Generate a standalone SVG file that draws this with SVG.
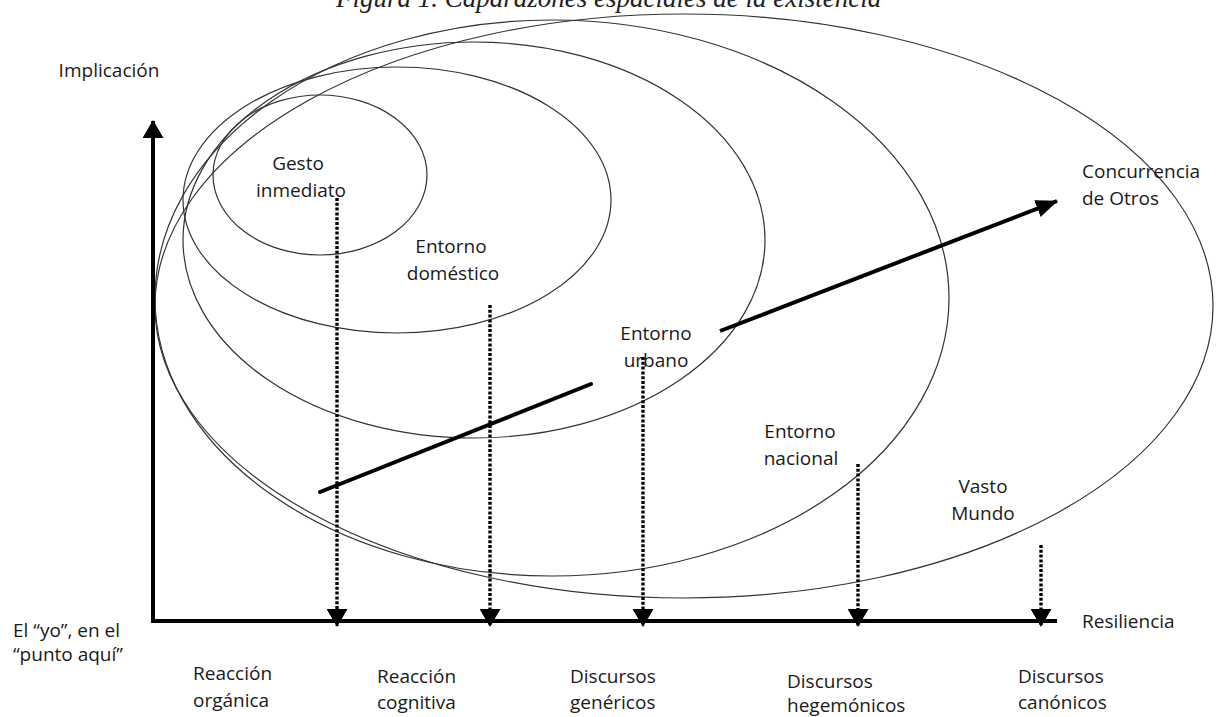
<svg xmlns="http://www.w3.org/2000/svg" width="1216" height="717" viewBox="0 0 1216 717">
<style>
.t{font-family:"Open Sans","Noto Sans",sans-serif;font-size:19px;fill:#1a1a1a}
.m{text-anchor:middle}
.e{fill:none;stroke:#333;stroke-width:1.2}
.ax{stroke:#000;stroke-width:4;fill:none}
.dot{stroke:#000;stroke-width:3.4;stroke-dasharray:3 1.8;fill:none}
.ttl{font-family:"Liberation Serif",serif;font-style:italic;font-size:27px;fill:#222}
</style>
<defs>
<marker id="tri" viewBox="0 0 18 21" refX="17" refY="10.5" markerWidth="18" markerHeight="21" markerUnits="userSpaceOnUse" orient="auto">
<path d="M0,0 L18,10.5 L0,21 z" fill="#000"/>
</marker>
<marker id="arr" viewBox="0 0 22 18" refX="21" refY="9" markerWidth="22" markerHeight="18" markerUnits="userSpaceOnUse" orient="auto">
<path d="M0,0 L22,9 L0,18 z" fill="#000"/>
</marker>
</defs>
<rect width="1216" height="717" fill="#fff"/>
<text class="ttl" x="336" y="7">Figura 1. Caparazones espaciales de la existencia</text>

<g id="vasto">
<ellipse class="e" cx="684" cy="306" rx="529" ry="292"/>
<text class="t m" x="983" y="493">Vasto</text>
<text class="t m" x="983" y="520">Mundo</text>
</g>
<g id="nacional">
<ellipse class="e" cx="552" cy="298" rx="397" ry="278"/>
<text class="t m" x="800" y="438">Entorno</text>
<text class="t m" x="801" y="465">nacional</text>
</g>
<g id="urbano">
<ellipse class="e" cx="474" cy="240" rx="291" ry="198"/>
<text class="t m" x="656" y="340">Entorno</text>
<text class="t m" x="656" y="367">urbano</text>
</g>
<g id="domestico">
<ellipse class="e" cx="397" cy="200" rx="214" ry="133"/>
<text class="t m" x="451" y="253">Entorno</text>
<text class="t m" x="453" y="280">doméstico</text>
</g>
<g id="gesto">
<ellipse class="e" cx="320" cy="175" rx="107" ry="80"/>
<text class="t m" x="298" y="170">Gesto</text>
<text class="t m" x="301" y="197">inmediato</text>
</g>

<g id="axes">
<line class="ax" x1="153" y1="623" x2="153" y2="121" marker-end="url(#tri)"/>
<line class="ax" x1="151" y1="621" x2="1057" y2="621"/>
<text class="t m" x="109" y="77">Implicación</text>
<text class="t" x="1082" y="628">Resiliencia</text>
<text class="t" x="13" y="637">El “yo”, en el</text>
<text class="t" x="13" y="661">“punto aquí”</text>
<text class="t" x="1082" y="178">Concurrencia</text>
<text class="t" x="1082" y="205">de Otros</text>
</g>

<g id="connectors">
<line class="dot" x1="337" y1="198" x2="337" y2="626" marker-end="url(#tri)"/>
<line class="dot" x1="490" y1="305" x2="490" y2="626" marker-end="url(#tri)"/>
<line class="dot" x1="643" y1="357" x2="643" y2="626" marker-end="url(#tri)"/>
<line class="dot" x1="858" y1="464" x2="858" y2="626" marker-end="url(#tri)"/>
<line class="dot" x1="1041" y1="545" x2="1041" y2="626" marker-end="url(#tri)"/>
<line stroke="#000" stroke-width="4" stroke-linecap="round" x1="320" y1="492" x2="591" y2="384"/>
<line stroke="#000" stroke-width="4" x1="720" y1="331" x2="1057" y2="201" marker-end="url(#arr)"/>
</g>

<g id="labels">
<text class="t" x="193" y="680">Reacción</text>
<text class="t" x="193" y="707">orgánica</text>
<text class="t" x="377" y="683">Reacción</text>
<text class="t" x="377" y="709">cognitiva</text>
<text class="t" x="570" y="683">Discursos</text>
<text class="t" x="570" y="709">genéricos</text>
<text class="t" x="787" y="688">Discursos</text>
<text class="t" x="787" y="712">hegemónicos</text>
<text class="t" x="1018" y="683">Discursos</text>
<text class="t" x="1018" y="709">canónicos</text>
</g>
</svg>
